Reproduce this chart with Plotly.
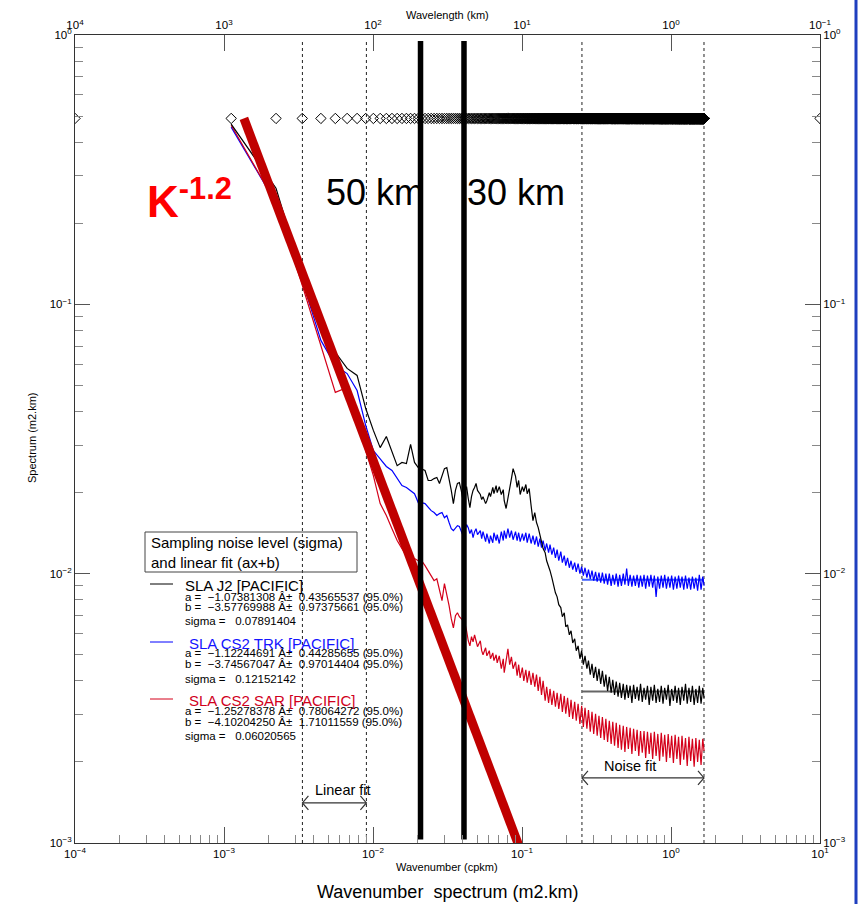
import numpy as np
import plotly.graph_objects as go

# ---------------- data ----------------
SAMPLE_SPACING_CPKM = 1.0 / 895.0          # spectral resolution (record length ~895 km)
NYQUIST_INDEX = 1492

sample_index = [1, 2, 3, 4, 5, 6, 7, 8, 9, 10, 11, 12, 13, 14, 15, 16, 17, 18, 19, 20, 21, 22, 23, 24,
                25, 26, 27, 28, 29, 30, 31, 32, 33, 34, 35, 36,
                37, 38, 39, 40, 41, 42, 43, 44, 45, 47, 48, 49, 51, 52, 54, 55, 57, 58, 60, 61, 63, 65,
                67, 68, 70, 72, 74, 76, 78, 81, 83, 85, 87, 90, 92, 95, 97, 100,
                103, 106, 109, 112, 115, 118, 121, 124,
                128, 131, 135, 138, 142, 146, 150, 154, 158,
                163, 167, 172, 176, 181, 186, 191, 196, 202, 207,
                213, 219, 225, 231, 237, 244, 250, 257, 264, 271,
                279, 286, 294, 302, 310, 319, 327, 336, 345, 355,
                364, 374, 384, 395, 405, 416, 428, 439, 451, 463,
                476, 489, 502, 516, 530, 544, 559, 574, 590, 605,
                622, 639, 656, 674, 692, 711, 730, 750, 770, 791,
                812, 834, 857, 880, 904, 929, 954, 980, 1006, 1033,
                1061, 1090, 1120, 1150, 1181, 1213, 1246, 1280, 1314, 1350,
                1386, 1424, 1462, 1492]

# log10 of the spectra (m2.km)
j2_log10_spectrum = [
    -0.331, -0.569, -0.892, -1.067, -1.178, -1.238, -1.264, -1.387, -1.468, -1.532, -1.491, -1.550,
    -1.599, -1.587, -1.591, -1.520, -1.587, -1.606, -1.613, -1.617, -1.654, -1.654, -1.647, -1.643,
    -1.665, -1.632, -1.610, -1.606, -1.647, -1.691, -1.740, -1.691, -1.665, -1.662, -1.691, -1.729,
    -1.699, -1.677, -1.721, -1.755, -1.714, -1.691, -1.680, -1.665, -1.691,
    -1.706, -1.725, -1.714, -1.740, -1.729, -1.699, -1.714, -1.680, -1.703, -1.673, -1.699,
    -1.677, -1.706, -1.688, -1.729, -1.758, -1.714, -1.684, -1.647, -1.610, -1.639, -1.680,
    -1.654, -1.706, -1.677, -1.695, -1.669, -1.703, -1.684,
    -1.747, -1.803, -1.773, -1.810, -1.829, -1.862, -1.881, -1.907,
    -1.922, -1.952, -1.970, -1.989, -2.015, -2.048, -2.071, -2.086, -2.115,
    -2.126, -2.160, -2.145, -2.197, -2.190, -2.227, -2.212, -2.257, -2.242, -2.286,
    -2.268, -2.316, -2.286, -2.338, -2.305, -2.353, -2.323, -2.375, -2.335, -2.387,
    -2.346, -2.398, -2.353, -2.409, -2.361, -2.420, -2.375, -2.435, -2.383, -2.442,
    -2.394, -2.450, -2.401, -2.457, -2.405, -2.461, -2.409, -2.468, -2.413, -2.461,
    -2.416, -2.480, -2.413, -2.465, -2.420, -2.472, -2.409, -2.476, -2.424, -2.468,
    -2.416, -2.487, -2.420, -2.472, -2.413, -2.480, -2.428, -2.476, -2.416, -2.483,
    -2.424, -2.468, -2.413, -2.491, -2.428, -2.472, -2.416, -2.480, -2.424, -2.487,
    -2.420, -2.472, -2.409, -2.483, -2.424, -2.476, -2.416, -2.487, -2.428, -2.480,
    -2.416, -2.483, -2.424, -2.461]

trk_log10_spectrum = [
    -0.342, -0.625, -0.911, -1.134, -1.227, -1.257, -1.320, -1.450, -1.543, -1.572, -1.602, -1.617,
    -1.647, -1.673, -1.680, -1.691, -1.703, -1.736, -1.736, -1.740, -1.755, -1.766, -1.773, -1.784,
    -1.777, -1.773, -1.792, -1.784, -1.810, -1.833, -1.840, -1.829, -1.822, -1.825, -1.840, -1.859,
    -1.840, -1.818, -1.829, -1.851, -1.836, -1.866, -1.844, -1.833, -1.855,
    -1.840, -1.870, -1.844, -1.881, -1.851, -1.888, -1.859, -1.885, -1.848, -1.877, -1.855,
    -1.888, -1.844, -1.877, -1.840, -1.870, -1.833, -1.866, -1.840, -1.874, -1.844, -1.877,
    -1.848, -1.881, -1.851, -1.877, -1.848, -1.885, -1.851,
    -1.888, -1.859, -1.892, -1.862, -1.900, -1.870, -1.903, -1.877,
    -1.914, -1.888, -1.922, -1.892, -1.929, -1.903, -1.941, -1.911, -1.952,
    -1.918, -1.959, -1.933, -1.970, -1.941, -1.978, -1.952, -1.985, -1.959, -1.993,
    -1.963, -2.000, -1.974, -2.007, -1.978, -2.015, -1.985, -2.019, -1.989, -2.026,
    -1.993, -2.030, -1.996, -2.033, -1.996, -2.037, -2.000, -2.041, -2.000, -2.045,
    -2.004, -2.041, -2.000, -2.048, -2.004, -2.045, -2.000, -2.041, -1.981, -2.045,
    -2.004, -2.048, -2.007, -2.045, -2.004, -2.052, -2.007, -2.048, -2.004, -2.056,
    -2.007, -2.048, -2.004, -2.052, -2.007, -2.086, -2.011, -2.056, -2.007, -2.052,
    -2.004, -2.056, -2.011, -2.052, -2.007, -2.059, -2.011, -2.056, -2.007, -2.052,
    -2.011, -2.059, -2.007, -2.056, -2.015, -2.059, -2.011, -2.056, -2.015, -2.063,
    -2.004, -2.059, -2.011, -2.045]

sar_log10_spectrum = [
    -0.335, -0.625, -0.929, -1.152, -1.327, -1.309, -1.413, -1.543, -1.636, -1.740, -1.784, -1.833,
    -1.877, -1.907, -1.933, -1.944, -1.944, -1.952, -1.952, -1.970, -1.989, -2.007, -2.026, -2.019,
    -2.063, -2.100, -2.037, -2.074, -2.119, -2.167, -2.201, -2.156, -2.145, -2.160, -2.167, -2.175,
    -2.182, -2.212, -2.249, -2.268, -2.234, -2.253, -2.227, -2.249, -2.271,
    -2.249, -2.286, -2.301, -2.275, -2.305, -2.286, -2.316, -2.294, -2.323, -2.301, -2.331,
    -2.305, -2.353, -2.316, -2.368, -2.323, -2.279, -2.338, -2.309, -2.353, -2.327, -2.379,
    -2.338, -2.387, -2.349, -2.398, -2.357, -2.405, -2.361,
    -2.413, -2.368, -2.420, -2.375, -2.435, -2.383, -2.450, -2.398,
    -2.472, -2.420, -2.480, -2.428, -2.487, -2.435, -2.494, -2.442, -2.502,
    -2.446, -2.513, -2.454, -2.520, -2.461, -2.532, -2.468, -2.539, -2.476, -2.546,
    -2.483, -2.558, -2.491, -2.569, -2.498, -2.576, -2.506, -2.587, -2.513, -2.595,
    -2.520, -2.602, -2.528, -2.610, -2.532, -2.617, -2.539, -2.625, -2.546, -2.632,
    -2.550, -2.639, -2.554, -2.647, -2.561, -2.654, -2.565, -2.662, -2.569, -2.651,
    -2.572, -2.669, -2.576, -2.658, -2.580, -2.677, -2.584, -2.665, -2.584, -2.684,
    -2.587, -2.669, -2.591, -2.688, -2.587, -2.677, -2.595, -2.695, -2.591, -2.680,
    -2.598, -2.699, -2.595, -2.684, -2.602, -2.703, -2.598, -2.688, -2.606, -2.710,
    -2.602, -2.691, -2.610, -2.714, -2.606, -2.695, -2.613, -2.717, -2.610, -2.699,
    -2.617, -2.710, -2.613, -2.658]

# reference marks
sampling_marker_level = 0.49
linear_fit_band_cpkm = [0.00336, 0.00903]
noise_fit_band_cpkm = [0.2525, 1.665]
marked_wavenumbers_cpkm = [0.02084, 0.0408]
marked_labels = ["50 km", "30 km"]
noise_level_j2 = 0.00365
noise_level_trk = 0.0095
power_law_k = [0.00136, 0.0985]
power_law_spectrum = [0.49, 0.00093]
power_law_label = "K<sup>-1.2</sup>"

legend_names = ["SLA J2 [PACIFIC]", "SLA CS2 TRK [PACIFIC]", "SLA CS2 SAR [PACIFIC]"]
fit_a = ["\u22121.07381308", "\u22121.12244691", "\u22121.25278378"]
fit_a_err = ["0.43565537", "0.44285655", "0.78064272"]
fit_b = ["\u22123.57769988", "\u22123.74567047", "\u22124.10204250"]
fit_b_err = ["0.97375661", "0.97014404", "1.71011559"]
fit_sigma = ["0.07891404", "0.12152142", "0.06020565"]

# ---------------- styling ----------------
FONT = "Liberation Sans, Arial, Helvetica, sans-serif"
C_J2 = "#000000"
C_TRK = "#0000ff"
C_SAR = "#d4001a"
C_TRK_TXT = "#1414ff"
C_SAR_TXT = "#d0001c"

W, H = 861, 904
L, R, T, B = 75, 41, 35, 61
PW, PH = W - L - R, H - T - B


def px(x):
    return (x - L) / PW


def py(y):
    return (H - B - y) / PH


k = np.array(sample_index) * SAMPLE_SPACING_CPKM
fig = go.Figure()


def line_trace(x, y, color, width=1, dash=None, xa="x", ya="y"):
    fig.add_trace(go.Scatter(x=x, y=y, mode="lines", xaxis=xa, yaxis=ya,
                             line=dict(color=color, width=width, dash=dash),
                             hoverinfo="skip", showlegend=False))


# dotted fit-band edges
for kv in linear_fit_band_cpkm + noise_fit_band_cpkm:
    line_trace([kv, kv], [1e-3, 0.96], "#222222", 1, "dot")

# sigma noise levels across the noise-fit band
line_trace(noise_fit_band_cpkm, [noise_level_j2, noise_level_j2], "#666666", 2)
line_trace(noise_fit_band_cpkm, [noise_level_trk, noise_level_trk], "#4060ff", 2)

# spectra
line_trace(k, 10 ** np.array(trk_log10_spectrum), C_TRK, 1.2)
line_trace(k, 10 ** np.array(sar_log10_spectrum), C_SAR, 1.2)
line_trace(k, 10 ** np.array(j2_log10_spectrum), C_J2, 1.2)

# power-law reference line
line_trace(power_law_k, power_law_spectrum, "#c00000", 9)

# thick wavelength markers
for kv in marked_wavenumbers_cpkm:
    line_trace([kv, kv], [0.00103, 0.95], "#000000", 5.5)

# sampling diamonds
diamond_idx = np.arange(1, NYQUIST_INDEX + 1)
dx = np.concatenate([[1e-4], diamond_idx * SAMPLE_SPACING_CPKM, [10.0]])
fig.add_trace(go.Scatter(x=dx, y=np.full(dx.shape, sampling_marker_level), mode="markers",
                         marker=dict(symbol="diamond-open", size=8, color="black",
                                     line=dict(width=1, color="black")),
                         hoverinfo="skip", showlegend=False))


# fit-range arrows
def hbar_arrow(x0, x1, yv):
    fx, fy = 10 ** (6 / 149), 10 ** (7 / 269)
    xs = [x0 * fx, x0, x0 * fx, None, x0, x1, None, x1 / fx, x1, x1 / fx]
    ys = [yv * fy, yv, yv / fy, None, yv, yv, None, yv * fy, yv, yv / fy]
    line_trace(xs, ys, "#333333", 1.2)


hbar_arrow(linear_fit_band_cpkm[0], linear_fit_band_cpkm[1], 10 ** (-(802 - 35) / 269))
hbar_arrow(noise_fit_band_cpkm[0], noise_fit_band_cpkm[1], 10 ** (-(777 - 35) / 269))

# dummy trace to activate the top/right axes
fig.add_trace(go.Scatter(x=[1e3], y=[0.5], xaxis="x2", yaxis="y2", mode="markers",
                         marker=dict(opacity=0), hoverinfo="skip", showlegend=False))


# ---------------- axes ----------------
def sup(e):
    s = str(e).replace("-", "\u2212")
    return "10<sup>" + s + "</sup>"


minor_x = [m * 10.0 ** d for d in range(-4, 1) for m in range(2, 10)]
minor_y = [m * 10.0 ** d for d in range(-3, 0) for m in range(2, 10)]
tickfont = dict(family=FONT, size=11.5, color="black")

common = dict(type="log", showgrid=False, zeroline=False, showline=True, linecolor="#333333",
              linewidth=1, ticks="inside", tickcolor="#555555", tickwidth=1, tickfont=tickfont)

fig.update_layout(
    xaxis=dict(range=[-4, 1], tickvals=[10.0 ** e for e in range(-4, 2)],
               ticktext=[sup(e) for e in range(-4, 2)], ticklen=16,
               minor=dict(tickvals=minor_x, ticks="inside", ticklen=8, tickcolor="#888888",
                          showgrid=False), **common),
    xaxis2=dict(range=[4, -1], overlaying="x", side="top", anchor="y2",
                tickvals=[10.0 ** e for e in range(-1, 5)],
                ticktext=[sup(e) for e in range(-1, 5)], ticklen=16, **common),
    yaxis=dict(range=[-3, 0], tickvals=[10.0 ** e for e in range(-3, 1)],
               ticktext=[sup(e) for e in range(-3, 1)], ticklen=15,
               minor=dict(tickvals=minor_y, ticks="inside", ticklen=8, tickcolor="#888888",
                          showgrid=False), **common),
    yaxis2=dict(range=[-3, 0], overlaying="y", side="right", anchor="x2",
                tickvals=[10.0 ** e for e in range(-3, 1)],
                ticktext=[sup(e) for e in range(-3, 1)], ticklen=15,
                minor=dict(tickvals=minor_y, ticks="inside", ticklen=8, tickcolor="#888888",
                           showgrid=False), **common),
)

# ---------------- text ----------------
ann = []


def text(x, y, s, size, color="black", xanchor="center", bold=False, angle=0):
    ann.append(dict(x=x, y=y, xref="paper", yref="paper", text=("<b>%s</b>" % s) if bold else s,
                    showarrow=False, xanchor=xanchor, yanchor="middle", textangle=angle,
                    align="left" if xanchor == "left" else "center",
                    font=dict(family=FONT, size=size, color=color)))


text(px(447), py(15), "Wavelength (km)", 11)
text(px(447), py(867), "Wavenumber (cpkm)", 11)
text(px(447), py(892), "Wavenumber  spectrum (m2.km)", 18)
text(px(32), py(438), "Spectrum (m2.km)", 11, angle=-90)
text(px(189), py(199), power_law_label, 44, "#ff0000", bold=True)
text(px(375), py(193), marked_labels[0], 36)
text(px(516), py(193), marked_labels[1], 36)
text(px(343), py(790), "Linear fit", 14.5)
text(px(630), py(766), "Noise fit", 14.5)

# legend box
text(px(149), py(552), "Sampling noise level (sigma)<br>and linear fit (ax+b)", 15, xanchor="left")
shapes = [dict(type="rect", xref="paper", yref="paper", x0=px(145), x1=px(357), y0=py(572), y1=py(532),
               line=dict(color="#444444", width=1), fillcolor="rgba(0,0,0,0)"),
          dict(type="line", xref="paper", yref="paper", x0=px(856), x1=px(856), y0=py(904), y1=py(0),
               line=dict(color="#1f3fbf", width=3))]

colors_line = [C_J2, C_TRK, C_SAR]
colors_txt = ["black", C_TRK_TXT, C_SAR_TXT]
rows = [(584, 183, 597, 607, 621), (642, 187, 653, 664, 679), (699, 187, 711, 722, 736)]
nb = "\u00a0"
for i, (yl, xt, ya, yb, ys) in enumerate(rows):
    shapes.append(dict(type="line", xref="paper", yref="paper", x0=px(150), x1=px(173),
                       y0=py(yl), y1=py(yl), line=dict(color=colors_line[i], width=1)))
    text(px(xt), py(yl + 1), legend_names[i], 15, colors_txt[i], xanchor="left")
    text(px(183), py(ya), "a =" + nb * 2 + fit_a[i] + " \u00c2\u00b1" + nb * 2 + fit_a_err[i] + " (95.0%)",
         11.5, xanchor="left")
    text(px(183), py(yb), "b =" + nb * 2 + fit_b[i] + " \u00c2\u00b1" + nb * 2 + fit_b_err[i] + " (95.0%)",
         11.5, xanchor="left")
    text(px(183), py(ys), "sigma =" + nb * 3 + fit_sigma[i], 11.5, xanchor="left")

fig.update_layout(
    width=W, height=H, autosize=False,
    margin=dict(l=L, r=R, t=T, b=B, pad=0),
    paper_bgcolor="white", plot_bgcolor="white",
    showlegend=False, annotations=ann, shapes=shapes,
    font=dict(family=FONT, color="black"),
)

fig.write_html("out.html")
